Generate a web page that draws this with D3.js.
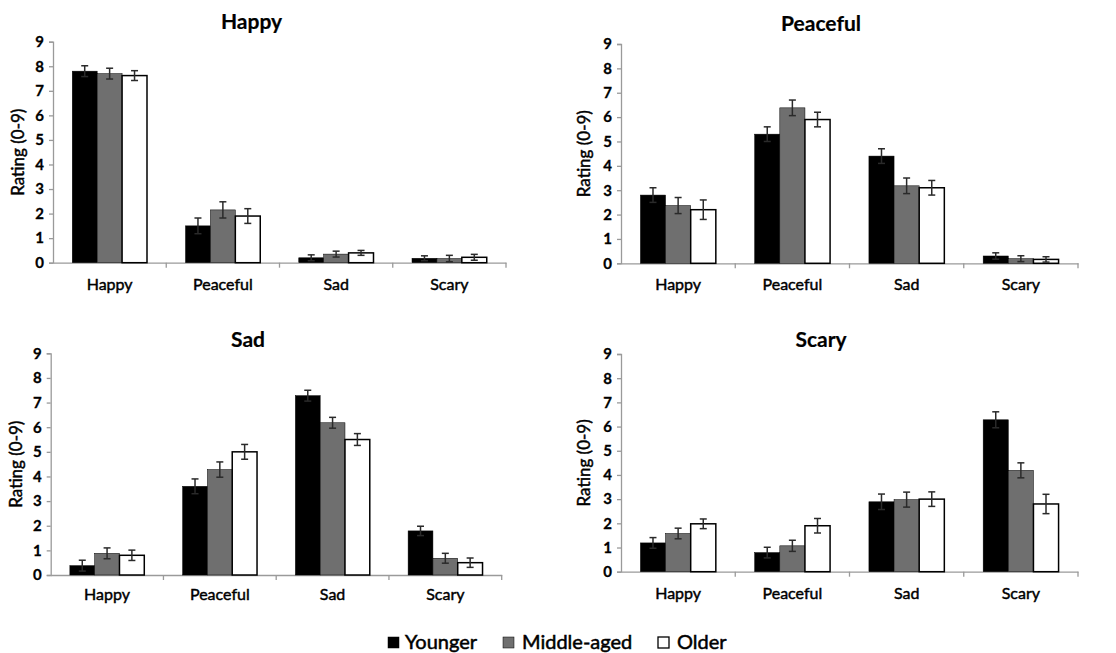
<!DOCTYPE html>
<html><head><meta charset="utf-8">
<script src="https://cdn.jsdelivr.net/npm/d3@7"></script>
<style>
html,body{margin:0;padding:0;background:#fff;}
svg{display:block;}
</style></head>
<body>
<svg id="chart" width="1116" height="653"></svg>
<script>
// ---- data ----
const categories = ["Happy", "Peaceful", "Sad", "Scary"];
const groups = ["Younger", "Middle-aged", "Older"];
const panelTitles = ["Happy", "Peaceful", "Sad", "Scary"];
const yTicks = [0, 1, 2, 3, 4, 5, 6, 7, 8, 9];
const yLabel = "Rating (0-9)";

// means[panel][category] = [Younger, Middle-aged, Older]
const happyMeans    = [[7.8, 7.7, 7.62], [1.5, 2.15, 1.9], [0.2, 0.35, 0.4], [0.18, 0.17, 0.22]];
const happyErrors   = [[0.22, 0.22, 0.2], [0.32, 0.33, 0.3], [0.12, 0.12, 0.1], [0.1, 0.13, 0.12]];
const peacefulMeans = [[2.8, 2.37, 2.2], [5.3, 6.38, 5.9], [4.4, 3.18, 3.1], [0.3, 0.19, 0.16]];
const peacefulErrors= [[0.3, 0.33, 0.4], [0.3, 0.32, 0.3], [0.3, 0.32, 0.3], [0.13, 0.12, 0.11]];
const sadMeans      = [[0.38, 0.88, 0.8], [3.6, 4.28, 5.0], [7.28, 6.18, 5.5], [1.79, 0.68, 0.5]];
const sadErrors     = [[0.22, 0.22, 0.21], [0.3, 0.31, 0.3], [0.22, 0.22, 0.24], [0.19, 0.2, 0.19]];
const scaryMeans    = [[1.19, 1.58, 1.98], [0.79, 1.07, 1.9], [2.89, 2.98, 3.0], [6.28, 4.19, 2.8]];
const scaryErrors   = [[0.22, 0.22, 0.2], [0.22, 0.23, 0.3], [0.32, 0.31, 0.3], [0.33, 0.31, 0.4]];

const panelMeans = [happyMeans, peacefulMeans, sadMeans, scaryMeans];
const panelErrors = [happyErrors, peacefulErrors, sadErrors, scaryErrors];

// ---- layout ----
const layouts = [
  {xl: 53,  xr: 506,  y0: 262.7, y9: 41.7, tx: 251.5, ty: 28.5, lx: 18,  cb: 290},
  {xl: 621, xr: 1078, y0: 263.3, y9: 44,   tx: 821,   ty: 30.5, lx: 584, cb: 290},
  {xl: 50.7,xr: 501.7,y0: 575,   y9: 353.3,tx: 248,   ty: 347,  lx: 16,  cb: 600},
  {xl: 621, xr: 1078, y0: 571.7, y9: 354,  tx: 821,   ty: 347,  lx: 584, cb: 599}
];
const fills = ["#000000", "#6f6f6f", "#ffffff"];
const axisColor = "#9a9a9a";
const FONT = "Lato, 'Open Sans', sans-serif";

const svg = d3.select("#chart");
const color = d3.scaleOrdinal(groups, fills);

function thick(sel, w) {
  sel.attr("fill", "#000").attr("stroke", "#000").attr("stroke-width", w).attr("font-family", FONT);
}

layouts.forEach((L, pi) => {
  const g = svg.append("g");
  const x0 = d3.scaleBand(categories, [L.xl, L.xr]).padding(0);
  const pad = x0.bandwidth() * 0.17;
  const x1 = d3.scaleBand(groups, [pad, x0.bandwidth() - pad]).padding(0);
  const y = d3.scaleLinear([0, 9], [L.y0, L.y9]);

  // y axis
  const ya = g.append("g").attr("transform", `translate(${L.xl},0)`)
    .call(d3.axisLeft(y).tickValues(yTicks).tickSize(4).tickPadding(5).tickFormat(d3.format("d")));
  ya.select(".domain").attr("stroke", axisColor).attr("stroke-width", 1.3);
  ya.selectAll(".tick line").attr("stroke", axisColor).attr("stroke-width", 1.3);
  ya.selectAll(".tick text").attr("font-size", 15).attr("font-weight", "bold").call(thick, 0.3);

  // x axis
  const xa = g.append("g").attr("transform", `translate(0,${L.y0})`)
    .call(d3.axisBottom(x0).tickSize(0).tickPadding(0).tickSizeOuter(0));
  xa.select(".domain").attr("stroke", axisColor).attr("stroke-width", 1.3);
  xa.selectAll(".tick text").attr("font-size", 16).call(thick, 0.45)
    .attr("dy", null).attr("y", L.cb - L.y0);
  g.selectAll("line.sep").data(categories).join("line").attr("class", "sep")
    .attr("x1", d => x0(d) + x0.bandwidth()).attr("x2", d => x0(d) + x0.bandwidth())
    .attr("y1", L.y0).attr("y2", L.y0 + 5).attr("stroke", axisColor).attr("stroke-width", 1.3);

  // bars
  const rows = [];
  categories.forEach((c, ci) => groups.forEach((gr, gi) => {
    rows.push({c, gr, v: panelMeans[pi][ci][gi], e: panelErrors[pi][ci][gi]});
  }));
  g.selectAll("rect.bar").data(rows).join("rect").attr("class", "bar")
    .attr("x", d => x0(d.c) + x1(d.gr))
    .attr("width", x1.bandwidth())
    .attr("y", d => y(d.v))
    .attr("height", d => y(0) - y(d.v))
    .attr("fill", d => color(d.gr))
    .attr("stroke", "#000").attr("stroke-width", d => d.gr === "Older" ? 1.5 : 0.5);

  // error bars
  const eb = g.selectAll("g.err").data(rows).join("g").attr("class", "err")
    .attr("transform", d => `translate(${x0(d.c) + x1(d.gr) + x1.bandwidth() / 2},0)`);
  eb.append("line").attr("x1", 0).attr("x2", 0)
    .attr("y1", d => y(d.v - d.e)).attr("y2", d => y(d.v + d.e))
    .attr("stroke", "#2a2a2a").attr("stroke-width", 1.5);
  eb.append("line").attr("x1", -3.5).attr("x2", 3.5)
    .attr("y1", d => y(d.v + d.e)).attr("y2", d => y(d.v + d.e))
    .attr("stroke", "#2a2a2a").attr("stroke-width", 1.5);
  eb.append("line").attr("x1", -3.5).attr("x2", 3.5)
    .attr("y1", d => y(d.v - d.e)).attr("y2", d => y(d.v - d.e))
    .attr("stroke", "#2a2a2a").attr("stroke-width", 1.5);

  // title
  g.append("text").attr("x", L.tx).attr("y", L.ty).attr("text-anchor", "middle")
    .attr("font-size", 21).attr("font-weight", "bold").call(thick, 0.2).text(panelTitles[pi]);

  // y label
  g.append("text").attr("transform", `translate(${L.lx},${(L.y0 + L.y9) / 2}) rotate(-90)`)
    .attr("text-anchor", "middle").attr("dy", "0.35em")
    .attr("font-size", 17).call(thick, 0.45).text(yLabel);
});

// legend
const legendPos = [{sx: 388, tx: 405}, {sx: 503, tx: 522}, {sx: 658, tx: 677}];
const lg = svg.append("g");
groups.forEach((gr, i) => {
  lg.append("rect").attr("x", legendPos[i].sx).attr("y", 637).attr("width", 11).attr("height", 11)
    .attr("fill", color(gr)).attr("stroke", "#000").attr("stroke-width", gr === "Older" ? 1.3 : 0.5);
  lg.append("text").attr("x", legendPos[i].tx).attr("y", 649).attr("font-size", 20)
    .call(thick, 0.5).text(gr);
});
</script>
</body></html>
